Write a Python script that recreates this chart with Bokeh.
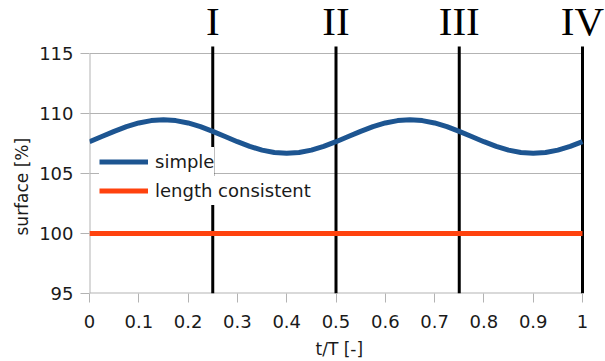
from bokeh.plotting import figure
from bokeh.models import Range1d, FixedTicker, NumeralTickFormatter, Legend, LegendItem, Title
from bokeh.core.properties import value
from bokeh.embed import file_html
from bokeh.resources import INLINE

# ---- data ----
t_values = [i / 40 for i in range(41)]
simple_values = [107.65, 108.08, 108.51, 108.90, 109.21, 109.41, 109.48, 109.41, 109.21, 108.90,
                 108.51, 108.08, 107.65, 107.26, 106.95, 106.75, 106.68, 106.75, 106.95, 107.26,
                 107.65, 108.08, 108.51, 108.90, 109.21, 109.41, 109.48, 109.41, 109.21, 108.90,
                 108.51, 108.08, 107.65, 107.26, 106.95, 106.75, 106.68, 106.75, 106.95, 107.26,
                 107.65]
consistent_t = [0.0, 1.0]
consistent_values = [100.0, 100.0]
marker_t = [0.25, 0.5, 0.75, 1.0]
marker_labels = ["I", "II", "III", "IV"]
x_ticks = [0, 0.1, 0.2, 0.3, 0.4, 0.5, 0.6, 0.7, 0.8, 0.9, 1.0]
y_ticks = [95, 100, 105, 110, 115]

# ---- layout constants (pixels / scale) ----
FONT = "DejaVu Sans"
GRID = "#b3b3b3"
TXT = "#1a1a1a"
PX_PER_T = 493          # pixels per unit of t/T
PX_PER_PCT = 12         # pixels per % of surface
FRAME_W, FRAME_H = 516, 293
LEFT = 89
Y_MIN = min(y_ticks)
Y_TOP = Y_MIN + FRAME_H / PX_PER_PCT
MARK_TOP = max(y_ticks) + 7 / PX_PER_PCT      # marker lines stop a little above the top grid line
LABEL_Y = max(y_ticks) + 33 / PX_PER_PCT      # anchor of the roman numerals
T_MIN, T_MAX = min(x_ticks), max(x_ticks)

p = figure(frame_width=FRAME_W, frame_height=FRAME_H, output_backend="svg", toolbar_location=None,
           x_range=Range1d(0, FRAME_W / PX_PER_T), y_range=Range1d(Y_MIN, Y_TOP),
           min_border_left=LEFT, min_border_right=0, min_border_top=0, min_border_bottom=68)
p.outline_line_color = None
p.background_fill_color = "white"
p.border_fill_color = "white"
p.xgrid.visible = False
p.ygrid.visible = False

for ax in (p.xaxis[0], p.yaxis[0]):
    ax.axis_line_color = None
    ax.major_tick_line_color = GRID
    ax.major_tick_out = 9
    ax.major_tick_in = 0
    ax.minor_tick_line_color = None
    ax.major_label_text_font = FONT
    ax.major_label_text_font_size = "18px"
    ax.major_label_text_color = TXT

p.xaxis.ticker = FixedTicker(ticks=x_ticks)
p.xaxis.formatter = NumeralTickFormatter(format="0.[0]")
p.xaxis.major_label_standoff = 12
p.yaxis.ticker = FixedTicker(ticks=y_ticks)
p.yaxis.major_label_standoff = 7

# axis titles
p.add_layout(Title(text="surface [%]", align="left", offset=58, standoff=9,
                   text_font=FONT, text_font_size="17px", text_font_style="normal",
                   text_color=TXT), "left")
p.add_layout(Title(text="t/T [-]", align="left", offset=226, standoff=12,
                   text_font=FONT, text_font_size="17px", text_font_style="normal",
                   text_color=TXT), "below")

# horizontal grid lines (ending at t/T = 1) and left axis line
r_grid = p.segment(x0=[T_MIN] * len(y_ticks), x1=[T_MAX] * len(y_ticks), y0=y_ticks, y1=y_ticks,
                   line_color=GRID, line_width=[2 if v == Y_MIN else 1 for v in y_ticks])
r_grid.level = "image"
r_axis = p.segment(x0=[T_MIN], x1=[T_MIN], y0=[Y_MIN], y1=[max(y_ticks)], line_color=GRID, line_width=2)
r_axis.level = "image"

# marker lines
r_marks = p.segment(x0=marker_t, x1=marker_t, y0=[Y_MIN] * len(marker_t), y1=[MARK_TOP] * len(marker_t),
                    line_color="black", line_width=3)
r_marks.level = "image"

p.text(x=marker_t, y=[LABEL_Y] * len(marker_t), text=marker_labels, text_align="center",
       text_baseline="alphabetic", text_font=value("Liberation Serif"),
       text_font_size="41px", text_color="black")

r_cons = p.line(consistent_t, consistent_values, line_color="#ff420e", line_width=5)
r_simple = p.line(t_values, simple_values, line_color="#1d5591", line_width=5)

# one legend box per entry, so the white boxes stay clear of the curve
leg_style = dict(margin=0, padding=12, spacing=0, glyph_width=49, glyph_height=29, label_height=29,
                 label_standoff=7, label_text_font=FONT, label_text_font_size="18px",
                 label_text_color=TXT, border_line_color=None, background_fill_color="white",
                 background_fill_alpha=1.0)
leg_simple = Legend(items=[LegendItem(label="simple", renderers=[r_simple])],
                    location=(10, 117), **leg_style)
leg_cons = Legend(items=[LegendItem(label="length consistent", renderers=[r_cons])],
                  location=(10, 88), **leg_style)
leg_simple.level = "underlay"
leg_cons.level = "underlay"
p.add_layout(leg_simple, "center")
p.add_layout(leg_cons, "center")

open("out.html", "w").write(file_html(p, INLINE))
